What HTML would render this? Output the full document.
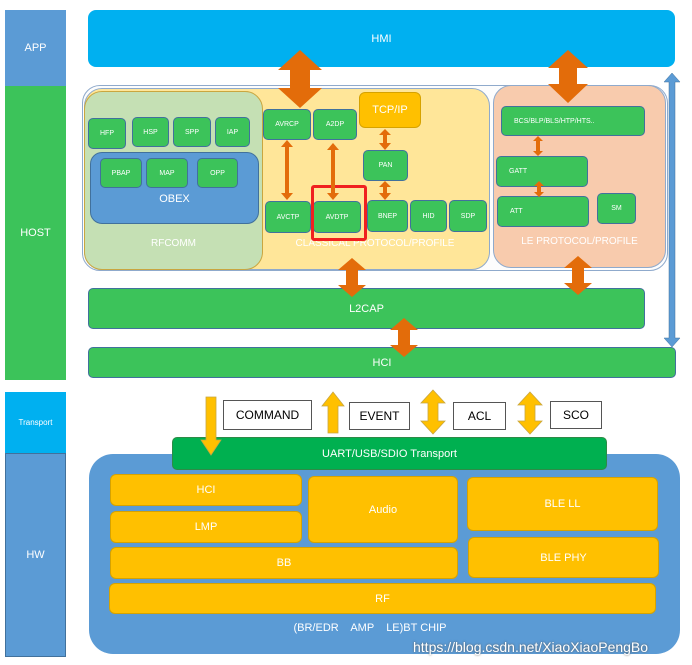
<!DOCTYPE html>
<html><head><meta charset="utf-8"><style>
body{margin:0;width:692px;height:665px;background:#fff;position:relative;overflow:hidden;font-family:"Liberation Sans",sans-serif}
.b{position:absolute;box-sizing:border-box;display:flex;align-items:center;justify-content:center;color:#fff;text-align:center}
.g{background:#3cc35a;border:1.5px solid #41719c;border-radius:5px;font-size:7px}
.y{background:#ffc000;border:1.5px solid #d6a200;border-radius:6px;font-size:11px}
</style></head><body>
<div class="b" style="left:5px;top:10px;width:61px;height:76px;background:#5b9bd5;font-size:11px">APP</div>
<div class="b" style="left:5px;top:86px;width:61px;height:294px;background:#3cc35a;font-size:11px">HOST</div>
<div class="b" style="left:5px;top:392px;width:61px;height:61px;background:#00b0f0;font-size:8px">Transport</div>
<div class="b" style="left:5px;top:453px;width:61px;height:204px;background:#5b9bd5;font-size:11px;border:1px solid #41719c">HW</div>

<div class="b" style="left:88px;top:10px;width:587px;height:57px;background:#00b0f0;border-radius:8px;font-size:11px">HMI</div>

<div class="b" style="left:82px;top:85px;width:586px;height:186px;background:#fdfdfd;border:1.5px solid #8faacc;border-radius:18px"></div>
<div class="b" style="left:84px;top:88px;width:406px;height:182px;background:#ffe699;border:1.5px solid #8faacc;border-radius:18px"></div>
<div class="b" style="left:84px;top:91px;width:179px;height:179px;background:#c5e0b4;border:1.5px solid #c9a640;border-radius:18px;align-items:flex-end;padding-bottom:20px;font-size:10px">RFCOMM</div>
<div class="b" style="left:493px;top:85px;width:173px;height:183px;background:#f8cbad;border:1.5px solid #8faacc;border-radius:18px;align-items:flex-end;padding-bottom:20px;font-size:10px">LE PROTOCOL/PROFILE</div>
<div class="b" style="left:263px;top:236px;width:224px;height:14px;font-size:10px;color:#fff">CLASSICAL PROTOCOL/PROFILE</div>

<div class="b g" style="left:88px;top:118px;width:38px;height:31px">HFP</div>
<div class="b g" style="left:132px;top:117px;width:37px;height:30px">HSP</div>
<div class="b g" style="left:173px;top:117px;width:38px;height:30px">SPP</div>
<div class="b g" style="left:215px;top:117px;width:35px;height:30px">IAP</div>
<div class="b" style="left:90px;top:152px;width:169px;height:72px;background:#5b9bd5;border:1.5px solid #41719c;border-radius:12px;align-items:flex-end;padding-bottom:18px;font-size:11px">OBEX</div>
<div class="b g" style="left:100px;top:158px;width:42px;height:30px">PBAP</div>
<div class="b g" style="left:146px;top:158px;width:42px;height:30px">MAP</div>
<div class="b g" style="left:197px;top:158px;width:41px;height:30px">OPP</div>

<div class="b g" style="left:263px;top:109px;width:48px;height:31px">AVRCP</div>
<div class="b g" style="left:313px;top:109px;width:44px;height:31px">A2DP</div>
<div class="b y" style="left:359px;top:92px;width:62px;height:36px">TCP/IP</div>
<div class="b g" style="left:363px;top:150px;width:45px;height:31px">PAN</div>
<div class="b g" style="left:265px;top:201px;width:46px;height:32px">AVCTP</div>
<div class="b g" style="left:313px;top:201px;width:48px;height:32px">AVDTP</div>
<div class="b g" style="left:367px;top:200px;width:41px;height:32px">BNEP</div>
<div class="b g" style="left:410px;top:200px;width:37px;height:32px">HID</div>
<div class="b g" style="left:449px;top:200px;width:38px;height:32px">SDP</div>
<div class="b" style="left:311px;top:185px;width:56px;height:56px;border:3px solid #f02020;border-radius:3px"></div>

<div class="b g" style="left:501px;top:106px;width:144px;height:30px;justify-content:flex-start;padding-left:12px">BCS/BLP/BLS/HTP/HTS..</div>
<div class="b g" style="left:496px;top:156px;width:92px;height:31px;justify-content:flex-start;padding-left:12px">GATT</div>
<div class="b g" style="left:497px;top:196px;width:92px;height:31px;justify-content:flex-start;padding-left:12px">ATT</div>
<div class="b g" style="left:597px;top:193px;width:39px;height:31px">SM</div>

<div class="b g" style="left:88px;top:288px;width:557px;height:41px;font-size:11px">L2CAP</div>
<div class="b g" style="left:88px;top:347px;width:588px;height:31px;font-size:11px">HCI</div>

<div class="b" style="left:89px;top:454px;width:591px;height:200px;background:#5b9bd5;border-radius:24px"></div>
<div class="b" style="left:290px;top:620px;width:160px;height:16px;font-size:11px">(BR/EDR &nbsp;&nbsp; AMP &nbsp;&nbsp; LE)BT CHIP</div>
<div class="b" style="left:172px;top:437px;width:435px;height:33px;background:#00b050;border-radius:5px;font-size:11px;border:1px solid #2e8b47">UART/USB/SDIO Transport</div>
<div class="b y" style="left:110px;top:474px;width:192px;height:32px">HCI</div>
<div class="b y" style="left:110px;top:511px;width:192px;height:32px">LMP</div>
<div class="b y" style="left:308px;top:476px;width:150px;height:67px">Audio</div>
<div class="b y" style="left:467px;top:477px;width:191px;height:54px">BLE LL</div>
<div class="b y" style="left:468px;top:537px;width:191px;height:41px">BLE PHY</div>
<div class="b y" style="left:110px;top:547px;width:348px;height:32px">BB</div>
<div class="b y" style="left:109px;top:583px;width:547px;height:31px">RF</div>
<div class="b" style="left:413px;top:637px;width:282px;height:20px;font-size:14px;color:#fff;text-shadow:0 0 2px #555;justify-content:flex-start">https://blog.csdn.net/XiaoXiaoPengBo</div>

<div class="b" style="left:223px;top:400px;width:89px;height:30px;border:1px solid #555;color:#000;font-size:12px;background:#fff">COMMAND</div>
<div class="b" style="left:349px;top:402px;width:61px;height:28px;border:1px solid #555;color:#000;font-size:12px;background:#fff">EVENT</div>
<div class="b" style="left:453px;top:402px;width:53px;height:28px;border:1px solid #555;color:#000;font-size:12px;background:#fff">ACL</div>
<div class="b" style="left:550px;top:401px;width:52px;height:28px;border:1px solid #555;color:#000;font-size:12px;background:#fff">SCO</div>

<svg width="692" height="665" style="position:absolute;left:0;top:0">
<g fill="#e36c0a">
<polygon points="300,50 322,70 310,70 310,88 322,88 300,108 278,88 290,88 290,70 278,70"/>
<polygon points="568,50 588,68 577,68 577,84 588,84 568,103 548,84 559,84 559,68 548,68"/>
<polygon points="352,258 366,270 358,270 358,285 366,285 352,297 338,285 346,285 346,270 338,270"/>
<polygon points="578,256 592,268 584,268 584,283 592,283 578,295 564,283 572,283 572,268 564,268"/>
<polygon points="404,318 418,330 410,330 410,345 418,345 404,357 390,345 398,345 398,330 390,330"/>
<polygon points="287,140 293,147 289,147 289,193 293,193 287,200 281,193 285,193 285,147 281,147"/>
<polygon points="333,143 339,150 335,150 335,193 339,193 333,200 327,193 331,193 331,150 327,150"/>
<polygon points="385,129 391,135 387,135 387,143 391,143 385,150 379,143 383,143 383,135 379,135"/>
<polygon points="385,181 391,187 387,187 387,193 391,193 385,200 379,193 383,193 383,187 379,187"/>
<polygon points="538,136 543,141 540,141 540,151 543,151 538,156 533,151 536,151 536,141 533,141"/>
<polygon points="539,181 544,186 541,186 541,192 544,192 539,197 534,192 537,192 537,186 534,186"/>
</g>
<polygon points="672,73 680,82 675,82 675,338 680,338 672,347 664,338 669,338 669,82 664,82" fill="#5b9bd5" stroke="#41719c" stroke-width="0.5"/>
<g fill="#ffc000" stroke="#c9a640" stroke-width="0.8">
<polygon points="206,397 216,397 216,440 221,440 211,455 201,440 206,440"/>
<polygon points="328,433 338,433 338,406 344,406 333,392 322,406 328,406"/>
<polygon points="433,390 445,403 438,403 438,421 445,421 433,434 421,421 428,421 428,403 421,403"/>
<polygon points="530,392 542,405 535,405 535,421 542,421 530,434 518,421 525,421 525,405 518,405"/>
</g>
</svg>
</body></html>
